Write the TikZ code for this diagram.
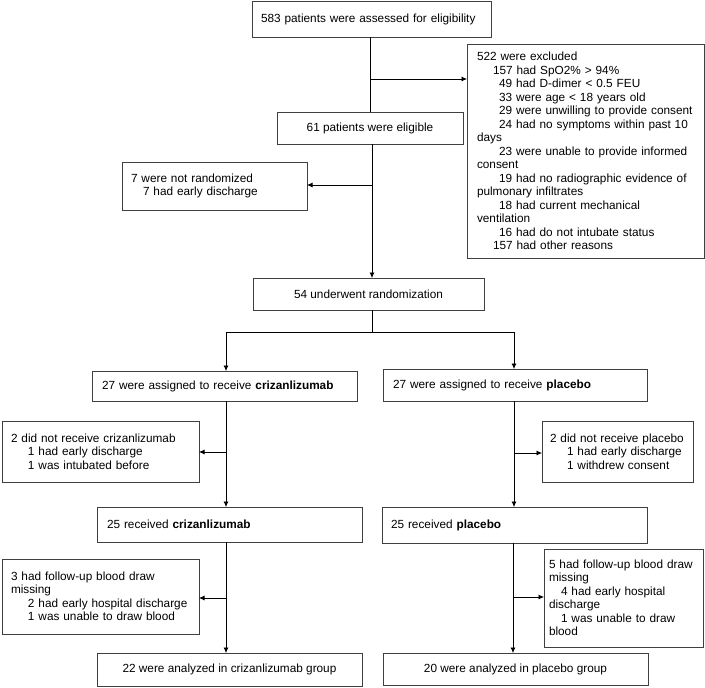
\documentclass[tikz,border=0pt]{standalone}
\usepackage{fontspec}
\setmainfont{Liberation Sans}
\usetikzlibrary{arrows.meta}

\tikzset{
  box/.style={draw=black!75, line width=0.8pt, inner ysep=2pt, outer sep=0pt},
  cbox/.style={box, align=center},
  lbox/.style={box, align=left},
  line/.style={draw, line width=0.7pt},
  arr/.style={line, -{Latex[length=5.5pt,width=5pt]}},
  every node/.style={font=\fontsize{11.8}{13.5}\selectfont}
}

\begin{document}
\begin{tikzpicture}[x=1pt,y=-1pt]
\useasboundingbox (0,0) rectangle (705,688);
\node[lbox, minimum width=239pt, minimum height=36pt, text width=221pt, inner xsep=9pt] (assess) at (371.5,19) {583 patients were assessed for eligibility};
\node[lbox, minimum width=237pt, minimum height=214pt, text width=217pt, inner xsep=10pt] (excl) at (585.5,151) {522 were excluded\\
\hspace*{16pt}157 had SpO2\% > 94\%\\
\hspace*{22pt}49 had D-dimer < 0.5 FEU\\
\hspace*{22pt}33 were age < 18 years old\\
\hspace*{22pt}29 were unwilling to provide consent\\
\hspace*{22pt}24 had no symptoms within past 10\\
days\\
\hspace*{22pt}23 were unable to provide informed\\
consent\\
\hspace*{22pt}19 had no radiographic evidence of\\
pulmonary infiltrates\\
\hspace*{22pt}18 had current mechanical\\
ventilation\\
\hspace*{22pt}16 had do not intubate status\\
\hspace*{16pt}157 had other reasons};
\node[cbox, minimum width=186pt, minimum height=32pt] (elig) at (370,128) {61 patients were eligible};
\node[lbox, minimum width=185pt, minimum height=48pt, text width=167pt, inner xsep=9pt] (notrand) at (214.5,186) {7 were not randomized\\
\hspace*{12pt}7 had early discharge};
\node[cbox, minimum width=231pt, minimum height=32pt] (rand) at (368.5,294) {54 underwent randomization};

\node[lbox, minimum width=265pt, minimum height=30pt, text width=245pt, inner xsep=10pt] (crizA) at (224.5,386) {27 were assigned to receive \textbf{crizanlizumab}};
\node[lbox, minimum width=264pt, minimum height=32pt, text width=244pt, inner xsep=10pt] (placA) at (515,385) {27 were assigned to receive \textbf{placebo}};
\node[lbox, minimum width=197pt, minimum height=61pt, text width=179pt, inner xsep=9pt] (crizX) at (100.5,451.5) {2 did not receive crizanlizumab\\
\hspace*{17pt}1 had early discharge\\
\hspace*{17pt}1 was intubated before};
\node[lbox, minimum width=151pt, minimum height=61pt, text width=135pt, inner xsep=8pt] (placX) at (617.5,451.5) {2 did not receive placebo\\
\hspace*{17pt}1 had early discharge\\
\hspace*{17pt}1 withdrew consent};

\node[lbox, minimum width=265pt, minimum height=35pt, text width=245pt, inner xsep=10pt] (crizR) at (229.5,524.5) {25 received \textbf{crizanlizumab}};
\node[lbox, minimum width=265pt, minimum height=36pt, text width=247pt, inner xsep=9pt] (placR) at (514.5,525) {25 received \textbf{placebo}};
\node[lbox, minimum width=197pt, minimum height=75pt, text width=179pt, inner xsep=9pt] (crizM) at (100.5,596.5) {3 had follow-up blood draw\\
missing\\
\hspace*{17pt}2 had early hospital discharge\\
\hspace*{17pt}1 was unable to draw blood};
\node[lbox, minimum width=159pt, minimum height=98pt, text width=149pt, inner xsep=5pt] (placM) at (623.5,598) {5 had follow-up blood draw\\
missing\\
\hspace*{12pt}4 had early hospital\\
discharge\\
\hspace*{12pt}1 was unable to draw\\
blood};

\node[cbox, minimum width=265pt, minimum height=33pt] (crizF) at (229.5,669.5) {22 were analyzed in crizanlizumab group};
\node[cbox, minimum width=265pt, minimum height=32pt] (placF) at (515.5,669) {20 were analyzed in placebo group};

\coordinate (j1) at (370,79);
\draw[line] (assess.south -| j1) -- (elig.north -| j1);
\draw[arr] (j1) -- (excl.west |- j1);
\coordinate (j2) at (372,185);
\draw[arr] (elig.south -| j2) -- (rand.north -| j2);
\draw[arr] (j2) -- (notrand.east |- j2);
\coordinate (j3) at (372,332);
\coordinate (jl) at (226,332);
\coordinate (jr) at (514,332);
\draw[line] (rand.south -| j3) -- (j3);
\draw[arr] (jr) -- (jl) -- (crizA.north -| jl);
\draw[arr] (jr) -- (placA.north -| jr);
\coordinate (j4) at (226,452);
\draw[arr] (crizA.south -| j4) -- (crizR.north -| j4);
\draw[arr] (j4) -- (crizX.east |- j4);
\coordinate (j5) at (514,453);
\draw[arr] (placA.south -| j5) -- (placR.north -| j5);
\draw[arr] (j5) -- (placX.west |- j5);
\coordinate (j6) at (226,598);
\draw[arr] (crizR.south -| j6) -- (crizF.north -| j6);
\draw[arr] (j6) -- (crizM.east |- j6);
\coordinate (j7) at (513,597);
\draw[arr] (placR.south -| j7) -- (placF.north -| j7);
\draw[arr] (j7) -- (placM.west |- j7);
\end{tikzpicture}
\end{document}
